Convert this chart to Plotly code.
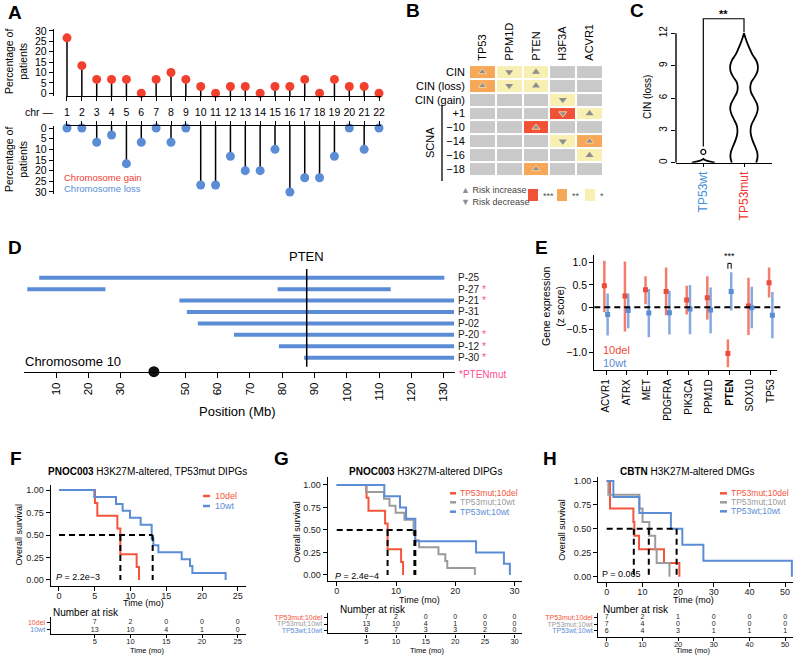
import plotly.graph_objects as go

W, H = 798, 655
FONT = "Liberation Sans, Arial, Helvetica, sans-serif"

RED = "#f2402f"
BLUE = "#5b8dd6"
KM_RED = "#f3553c"
KM_GREY = "#9b9b9b"
KM_BLUE = "#5b8dd6"
PINK = "#ff4f96"
GREY_CELL = "#c9c9c9"
YEL_CELL = "#f8f0b2"
ORA_CELL = "#f6a858"
RED_CELL = "#ef5236"

# ---------------- data ----------------
# A: chromosome arm gains / losses (% of patients)
chromosomes = list(range(1, 23))
gain_pct = [26.7, 13.3, 6.7, 6.7, 6.7, 0.0, 6.7, 10.0, 6.7, 3.3, 0.0, 3.3, 3.3, 0.0, 3.3, 3.3, 6.7, 0.0, 6.7, 3.3, 3.3, 0.0]
loss_pct = [0.0, 0.0, 6.7, 3.3, 16.7, 6.7, 0.0, 6.7, 0.0, 26.7, 26.7, 13.3, 20.0, 20.0, 10.0, 30.0, 23.3, 23.3, 13.3, 0.0, 10.0, 0.0]

# B: association heatmap (0 ns, 1 *, 2 **, 3 ***) and direction (1 increase, -1 decrease)
b_genes = ["TP53", "PPM1D", "PTEN", "H3F3A", "ACVR1"]
b_rows = ["CIN", "CIN (loss)", "CIN (gain)", "+1", "\u221210", "\u221214", "\u221216", "\u221218"]
b_signif = [[2, 1, 1, 0, 0], [2, 1, 1, 0, 0], [0, 0, 0, 1, 0], [0, 0, 0, 3, 1],
            [0, 0, 3, 0, 0], [0, 0, 0, 1, 2], [0, 0, 0, 0, 1], [0, 0, 2, 0, 0]]
b_direction = [[1, -1, 1, 0, 0], [1, -1, 1, 0, 0], [0, 0, 0, -1, 0], [0, 0, 0, -1, 1],
               [0, 0, 1, 0, 0], [0, 0, 0, -1, 1], [0, 0, 0, 0, 1], [0, 0, 1, 0, 0]]

# C: violin profiles of CIN (loss)
c_groups = ["TP53wt", "TP53mut"]
c_mut_levels = [0, 0.5, 1, 1.5, 2, 2.5, 3, 3.5, 4, 4.5, 5, 5.5, 6, 6.5, 7, 7.5, 8, 8.5, 9, 9.5, 10, 10.5, 11, 11.5, 12]
c_mut_density = [0.86, 0.95, 0.92, 0.78, 0.62, 0.5, 0.46, 0.52, 0.7, 0.88, 0.97, 0.9, 0.7, 0.5, 0.44, 0.52, 0.78,
                 0.95, 0.97, 0.85, 0.6, 0.42, 0.26, 0.12, 0.0]
c_wt_levels = [0, 0.1, 0.2, 0.3, 0.35]
c_wt_density = [0.8, 0.5, 0.22, 0.05, 0.0]
c_wt_outlier = 1.0

# D: chromosome 10 deletions (Mb)
d_patients = ["P-25", "P-27", "P-21", "P-31", "P-02", "P-20", "P-12", "P-30"]
d_pten_mut = [False, True, True, False, False, True, True, True]
d_seg_patient = ["P-25", "P-27", "P-27", "P-21", "P-31", "P-02", "P-20", "P-12", "P-30"]
d_seg_start = [4.8, 1.1, 78.6, 48.2, 50.5, 53.9, 65.1, 79.0, 86.8]
d_seg_end = [130.2, 25.3, 113.6, 133.2, 133.2, 133.2, 133.2, 133.2, 133.2]
d_pten_pos = 87.6
d_centromere = 40.3
d_ticks = [10, 20, 30, 50, 60, 70, 80, 90, 100, 110, 120, 130]

# E: gene expression (z score)
e_genes = ["ACVR1", "ATRX", "MET", "PDGFRA", "PIK3CA", "PPM1D", "PTEN", "SOX10", "TP53"]
e_del_mean = [0.48, 0.25, 0.39, 0.35, 0.16, 0.21, -1.03, 0.03, 0.55]
e_del_low = [-0.11, -0.54, 0.07, -0.18, -0.16, -0.27, -1.34, -0.62, 0.22]
e_del_high = [1.04, 1.02, 0.69, 0.89, 0.48, 0.69, -0.72, 0.66, 0.89]
e_wt_mean = [-0.16, -0.07, -0.13, -0.12, -0.04, -0.06, 0.35, -0.01, -0.18]
e_wt_low = [-0.63, -0.47, -0.67, -0.61, -0.60, -0.58, -0.07, -0.47, -0.69]
e_wt_high = [0.31, 0.31, 0.41, 0.37, 0.50, 0.44, 0.78, 0.46, 0.34]

# F/G/H: Kaplan-Meier step curves (time in months, survival)
km_mut_del_t = [0, 5.03, 5.36, 8.16, 8.58, 10.86, 11.19]
km_mut_del_s = [1, 0.857, 0.714, 0.571, 0.286, 0.143, 0]
km_mut_wt_t = [0, 4.94, 7.97, 8.9, 9.93, 11.42, 12.96, 13.2, 13.9, 17.16, 18.32, 18.65, 23.3]
km_mut_wt_s = [1, 0.923, 0.846, 0.769, 0.692, 0.615, 0.462, 0.385, 0.308, 0.231, 0.154, 0.077, 0]
km_wt_wt_t = [0, 8.03, 10.67, 11.7, 13.26, 23.5, 28.2, 29.2]
km_wt_wt_s = [1, 0.875, 0.75, 0.625, 0.375, 0.25, 0.125, 0]
f_medians = [8.58, 13.1]
g_medians = [8.58, 13.1, 13.26]

h_red_t = [0, 0.93, 7.48, 7.76, 9.07, 16.07, 20.37]
h_red_s = [1, 0.714, 0.571, 0.429, 0.286, 0.143, 0]
h_grey_t = [0, 0.47, 9.15, 10.05, 11.95, 13.6, 14.0, 17.6]
h_grey_s = [1, 0.857, 0.714, 0.571, 0.429, 0.286, 0.143, 0]
h_blue_t = [0, 1.87, 9.15, 18.0, 21.2, 27.1, 51.9]
h_blue_s = [1, 0.833, 0.667, 0.5, 0.333, 0.167, 0]
h_medians = [7.6, 11.8, 19.6]

f_risk_times = [5, 10, 15, 20, 25]
f_risk_labels = ["10del", "10wt"]
f_risk = [[7, 2, 0, 0, 0], [13, 10, 4, 1, 0]]
g_risk_times = [5, 10, 15, 20, 25, 30]
g_risk_labels = ["TP53mut;10del", "TP53mut;10wt", "TP53wt;10wt"]
g_risk = [[7, 2, 0, 0, 0, 0], [13, 10, 4, 1, 0, 0], [8, 7, 3, 3, 2, 0]]
h_risk_times = [0, 10, 20, 30, 40, 50]
h_risk_labels = ["TP53mut;10del", "TP53mut;10wt", "TP53wt;10wt"]
h_risk = [[7, 2, 1, 0, 0, 0], [7, 4, 0, 0, 0, 0], [6, 4, 3, 1, 1, 1]]


# ---------------- helpers ----------------
def fx(px):
    return px / W


def fy(py):
    return 1 - py / H


def dx(a, b):
    return [fx(a), fx(b)]


def dy(top, bottom):
    return [fy(bottom), fy(top)]


fig = go.Figure()
annotations = []
shapes = []
layout = {}


def ann(text, x, y, size=10, color="black", xanchor="center", yanchor="middle", angle=0,
        xref="paper", yref="paper", **kw):
    annotations.append(dict(text=text, x=x, y=y, xref=xref, yref=yref, showarrow=False,
                            font=dict(size=size, color=color, family=FONT),
                            xanchor=xanchor, yanchor=yanchor, textangle=angle, **kw))


def pann(text, px, py, **kw):
    ann(text, fx(px), fy(py), **kw)


def ax(**kw):
    d = dict(showgrid=False, zeroline=False, showline=False, ticks="", automargin=False,
             tickfont=dict(size=10, family=FONT, color="black"),
             linecolor="black", linewidth=1.4, tickcolor="black", tickwidth=1.2, ticklen=4)
    d.update(kw)
    return d


def span(text, color):
    return f"<span style='color:{color}'>{text}</span>"


# panel letters
for letter, px, py in [("A", 15, 12), ("B", 413, 11), ("C", 637, 11), ("D", 15, 247), ("E", 541, 247),
                       ("F", 16, 458), ("G", 281, 458), ("H", 550, 458)]:
    pann(f"<b>{letter}</b>", px, py, size=19)

# ---------------- A ----------------
base_up = -1.3
base_lo = -0.94
layout["xaxis"] = ax(domain=dx(65.5, 380.5), range=[0.9, 22.1], anchor="y", showline=True,
                     ticks="outside", tickvals=chromosomes, ticktext=[str(c) for c in chromosomes],
                     tickfont=dict(size=10.5, family=FONT, color="black"), ticklabelstandoff=2)
layout["yaxis"] = ax(domain=dy(29, 96), range=[base_up, 30.96], anchor="free", position=fx(53),
                     showline=True, ticks="outside", tickvals=[0, 5, 10, 15, 20, 25, 30],
                     tickfont=dict(size=10.5, family=FONT, color="black"))
layout["xaxis2"] = ax(domain=dx(65.5, 380.5), range=[0.9, 22.1], anchor="y2", side="top",
                      showline=True, ticks="outside", tickvals=chromosomes, showticklabels=False)
layout["yaxis2"] = ax(domain=dy(126, 194), range=[30.94, base_lo], anchor="free", position=fx(53),
                      showline=True, ticks="outside", tickvals=[0, 5, 10, 15, 20, 25, 30],
                      tickfont=dict(size=10.5, family=FONT, color="black"))

sx, sy = [], []
for c, v in zip(chromosomes, gain_pct):
    sx += [c, c, None]
    sy += [base_up, v, None]
fig.add_trace(go.Scatter(x=sx, y=sy, mode="lines", line=dict(color="black", width=1.5),
                         xaxis="x", yaxis="y", hoverinfo="skip"))
fig.add_trace(go.Scatter(x=chromosomes, y=gain_pct, mode="markers", cliponaxis=False,
                         marker=dict(color=RED, size=9), xaxis="x", yaxis="y"))
sx, sy = [], []
for c, v in zip(chromosomes, loss_pct):
    sx += [c, c, None]
    sy += [base_lo, v, None]
fig.add_trace(go.Scatter(x=sx, y=sy, mode="lines", line=dict(color="black", width=1.5),
                         xaxis="x2", yaxis="y2", hoverinfo="skip"))
fig.add_trace(go.Scatter(x=chromosomes, y=loss_pct, mode="markers", cliponaxis=False,
                         marker=dict(color=BLUE, size=9), xaxis="x2", yaxis="y2"))

pann("Percentage of<br>patients", 16, 62, size=10.5, angle=-90)
pann("Percentage of<br>patients", 16, 160, size=10.5, angle=-90)
pann("chr \u2014", 56, 112, size=10.5, xanchor="right")
pann("Chromosome gain", 62, 177, size=9.5, color=RED, xanchor="left")
pann("Chromosome loss", 62, 188, size=9.5, color=BLUE, xanchor="left")

# ---------------- B ----------------
layout["xaxis3"] = ax(domain=dx(469, 603), anchor="y3", side="top", tickangle=-90, type="category",
                      categoryorder="array", categoryarray=b_genes,
                      tickfont=dict(size=11, family=FONT, color="black"))
layout["yaxis3"] = ax(domain=dy(61.7, 179.3), anchor="x3", type="category", categoryorder="array",
                      categoryarray=b_rows, autorange="reversed", ticklabelstandoff=3,
                      tickfont=dict(size=11, family=FONT, color="black"))
cscale = [[0, GREY_CELL], [0.1667, GREY_CELL], [0.1667, YEL_CELL], [0.5, YEL_CELL],
          [0.5, ORA_CELL], [0.8333, ORA_CELL], [0.8333, RED_CELL], [1, RED_CELL]]
fig.add_trace(go.Heatmap(z=b_signif, x=b_genes, y=b_rows, colorscale=cscale, zmin=0, zmax=3,
                         showscale=False, xgap=2, ygap=2, xaxis="x3", yaxis="y3", hoverinfo="skip"))
for direction, sym in [(1, "triangle-up"), (-1, "triangle-down")]:
    tx, ty, lc = [], [], []
    for i, r in enumerate(b_rows):
        for j, g in enumerate(b_genes):
            if b_direction[i][j] == direction:
                tx.append(g)
                ty.append(r)
                lc.append("rgba(255,205,150,1)" if b_signif[i][j] >= 2 else "rgba(0,0,0,0)")
    fig.add_trace(go.Scatter(x=tx, y=ty, mode="markers", xaxis="x3", yaxis="y3", hoverinfo="skip",
                             marker=dict(symbol=sym, size=7, color="#8e8e8e", line=dict(color=lc, width=1))))
pann("SCNA", 430, 143, size=11, angle=-90)
shapes.append(dict(type="line", xref="paper", yref="paper", x0=fx(442), x1=fx(442), y0=fy(105), y1=fy(181),
                   line=dict(color="black", width=1.3)))
pann(span("\u25b2", "#8e8e8e") + " Risk increase", 459, 190, size=9, color="#444", xanchor="left")
pann(span("\u25bc", "#8e8e8e") + " Risk decrease", 459, 202, size=9, color="#444", xanchor="left")
for x0, col, lab in [(528, RED_CELL, "***"), (557, ORA_CELL, "**"), (585, YEL_CELL, "*")]:
    shapes.append(dict(type="rect", xref="paper", yref="paper", x0=fx(x0), x1=fx(x0 + 10), y0=fy(201), y1=fy(189),
                       fillcolor=col, line=dict(width=0)))
    pann(lab, x0 + 13, 196, size=9, color="#555", xanchor="left")

# ---------------- C ----------------
layout["xaxis4"] = ax(domain=dx(676, 772), range=[-0.671, 1.688], anchor="y4", showline=True,
                      ticks="outside", ticklen=3, tickvals=[0, 1],
                      ticktext=[span(c_groups[0], "#3f8fd8"), span(c_groups[1], "#f0362c")],
                      tickangle=-90, tickfont=dict(size=12, family=FONT, color="black"))
layout["yaxis4"] = ax(domain=dy(14, 162.7), range=[0, 13.79], anchor="x4", ticks="outside",
                      tickvals=[0, 3, 6, 9, 12], tickangle=-90,
                      tickfont=dict(size=10, family=FONT, color="black"))
shapes.append(dict(type="line", xref="paper", yref="y4", x0=fx(676), x1=fx(676), y0=0, y1=12,
                   line=dict(color="black", width=1.4)))
vscale = 0.35
for gi, lv, dens in [(1, c_mut_levels, c_mut_density), (0, c_wt_levels, c_wt_density)]:
    vx = [gi + d * vscale for d in dens] + [gi - d * vscale for d in reversed(dens)]
    vy = list(lv) + list(reversed(lv))
    fig.add_trace(go.Scatter(x=vx, y=vy, mode="lines", fill="toself", fillcolor="white",
                             line=dict(color="black", width=1.8, shape="spline", smoothing=0.6),
                             xaxis="x4", yaxis="y4", hoverinfo="skip"))
fig.add_trace(go.Scatter(x=[0], y=[c_wt_outlier], mode="markers", xaxis="x4", yaxis="y4",
                         marker=dict(symbol="circle-open", size=5, color="black", line=dict(width=1.2))))
bracket_top = 13.35
fig.add_trace(go.Scatter(x=[0, 0, 1, 1], y=[1.5, bracket_top, bracket_top, 12.1], mode="lines",
                         line=dict(color="black", width=1.2), xaxis="x4", yaxis="y4", hoverinfo="skip"))
ann("<b>**</b>", 0.5, bracket_top, xref="x4", yref="y4", size=11, yanchor="bottom", yshift=-3)
pann("CIN (loss)", 647, 97, size=10, angle=-90)

# ---------------- D ----------------
layout["xaxis5"] = ax(domain=dx(23.7, 455), range=[0, 133.5], anchor="y5", showline=True,
                      ticks="outside", ticklen=5, tickvals=d_ticks, tickangle=-90,
                      tickfont=dict(size=11.5, family=FONT, color="black"))
d_labels = [p + (" " + span("*", PINK) if m else "") for p, m in zip(d_patients, d_pten_mut)]
layout["yaxis5"] = ax(domain=dy(262, 371.7), range=[8.225, -1.374], anchor="free", position=fx(455),
                      side="right", tickvals=list(range(len(d_patients))), ticktext=d_labels,
                      ticklabelstandoff=2, tickfont=dict(size=10, family=FONT, color="#222"))
sx, sy = [], []
for p, s, e in zip(d_seg_patient, d_seg_start, d_seg_end):
    r = d_patients.index(p)
    sx += [s, e, None]
    sy += [r, r, None]
fig.add_trace(go.Scatter(x=sx, y=sy, mode="lines", line=dict(color=BLUE, width=4),
                         xaxis="x5", yaxis="y5", hoverinfo="skip"))
fig.add_trace(go.Scatter(x=[d_pten_pos, d_pten_pos], y=[-0.76, 7.79], mode="lines",
                         line=dict(color="black", width=1.5), xaxis="x5", yaxis="y5", hoverinfo="skip"))
fig.add_trace(go.Scatter(x=[d_centromere], y=[8.225], mode="markers", cliponaxis=False,
                         marker=dict(color="#111", size=11), xaxis="x5", yaxis="y5"))
ann("PTEN", d_pten_pos, fy(256.7), xref="x5", size=13)
pann("Chromosome 10", 23, 361, size=13, xanchor="left")
pann("Position (Mb)", 237, 411, size=13)
pann("*PTENmut", 457, 374, size=10, color=PINK, xanchor="left")

# ---------------- E ----------------
e_ticktext = [f"<b>{g}</b>" if g == "PTEN" else g for g in e_genes]
layout["xaxis6"] = ax(domain=dx(594.3, 776.7), range=[-0.568, 8.29], anchor="y6", showline=True,
                      ticks="outside", tickvals=list(range(len(e_genes))), ticktext=e_ticktext,
                      tickangle=-90, tickfont=dict(size=10, family=FONT, color="black"))
layout["yaxis6"] = ax(domain=dy(255, 370), range=[-1.4, 1.167], anchor="x6", showline=True,
                      ticks="outside", tickvals=[1, 0.5, 0, -0.5, -1],
                      ticktext=["1.0", "0.5", "0", "\u22120.5", "\u22121.0"],
                      tickfont=dict(size=10.5, family=FONT, color="black"))
shapes.append(dict(type="line", xref="paper", yref="y6", x0=fx(594.3), x1=fx(783), y0=0, y1=0,
                   line=dict(color="black", width=2, dash="6px,4px")))
off = 0.08
for mean, lo, hi, sgn, col, ecol in [(e_del_mean, e_del_low, e_del_high, -1, "#ef4a3a", "rgba(240,80,60,0.75)"),
                                     (e_wt_mean, e_wt_low, e_wt_high, 1, BLUE, "rgba(91,141,214,0.75)")]:
    fig.add_trace(go.Scatter(
        x=[i + sgn * off for i in range(len(e_genes))], y=mean, mode="markers",
        marker=dict(symbol="square", size=5, color=col),
        error_y=dict(type="data", symmetric=False, array=[h - m for h, m in zip(hi, mean)],
                     arrayminus=[m - l for m, l in zip(mean, lo)], color=ecol, thickness=2.5, width=0),
        xaxis="x6", yaxis="y6", hoverinfo="skip"))
pten_i = e_genes.index("PTEN")
fig.add_trace(go.Scatter(x=[pten_i - off, pten_i - off, pten_i + off, pten_i + off], y=[0.86, 0.98, 0.98, 0.86],
                         mode="lines", line=dict(color="black", width=1), xaxis="x6", yaxis="y6", hoverinfo="skip"))
ann("***", pten_i, 0.98, xref="x6", yref="y6", size=9, yanchor="bottom", yshift=0)
pann("Gene expression<br>(z score)", 553, 306, size=10.5, angle=-90)
pann("10del", 601, 349.5, size=11, color="#ef4a3a", xanchor="left")
pann("10wt", 601, 363, size=11, color=BLUE, xanchor="left")


# ---------------- KM panels ----------------
def km_panel(xa, ya, xr, yr, xdom, ydom, xrange_, yrange_, xticks, curves, medians,
             risk_dom, risk_range, risk_times, risk_rows, risk_labels, risk_colors, risk_ticks):
    layout[f"xaxis{xa}"] = ax(domain=xdom, range=xrange_, anchor=f"y{ya}", showline=True, ticks="outside",
                              tickvals=xticks, ticklabelstandoff=-3,
                              tickfont=dict(size=9, family=FONT, color="#222"))
    layout[f"yaxis{ya}"] = ax(domain=ydom, range=yrange_, anchor=f"x{xa}", showline=True, ticks="outside",
                              tickvals=[0, 0.25, 0.5, 0.75, 1], tickformat=".2f",
                              tickfont=dict(size=9, family=FONT, color="#222"))
    for t, s, c in curves:
        fig.add_trace(go.Scatter(x=t, y=s, mode="lines", line=dict(color=c, width=2, shape="hv"),
                                 xaxis=f"x{xa}", yaxis=f"y{ya}", hoverinfo="skip"))
    mx, my = [0, max(medians), None], [0.5, 0.5, None]
    for m in medians:
        mx += [m, m, None]
        my += [0.5, 0, None]
    fig.add_trace(go.Scatter(x=mx, y=my, mode="lines", line=dict(color="black", width=2, dash="6px,4px"),
                             xaxis=f"x{xa}", yaxis=f"y{ya}", hoverinfo="skip"))
    # risk table
    layout[f"xaxis{xr}"] = ax(domain=xdom, range=xrange_, anchor=f"y{yr}", showline=True, ticks="outside",
                              ticklen=3, tickvals=risk_ticks, ticklabelstandoff=-3,
                              tickfont=dict(size=7.5, family=FONT, color="#222"))
    layout[f"yaxis{yr}"] = ax(domain=risk_dom, range=risk_range, anchor=f"x{xr}", showline=True,
                              ticks="outside", ticklen=3, tickvals=list(range(len(risk_labels))),
                              ticktext=[span(l, c) for l, c in zip(risk_labels, risk_colors)],
                              tickfont=dict(size=7, family=FONT, color="black"))
    for i, row in enumerate(risk_rows):
        fig.add_trace(go.Scatter(x=risk_times, y=[i] * len(row), text=[str(n) for n in row], mode="text",
                                 textfont=dict(size=7, family=FONT, color="#222"), cliponaxis=False,
                                 xaxis=f"x{xr}", yaxis=f"y{yr}", hoverinfo="skip"))


# F
km_panel(7, 7, 8, 8, dx(50.7, 245.7), dy(485, 586), [-1.16, 26.11], [-0.067, 1.056], [0, 5, 10, 15, 20, 25],
         [(km_mut_del_t, km_mut_del_s, KM_RED), (km_mut_wt_t, km_mut_wt_s, KM_BLUE)], f_medians,
         dy(617, 634), [1.55, -0.78], f_risk_times, f_risk, f_risk_labels, [KM_RED, KM_BLUE], f_risk_times)
pann("<b>PNOC003</b> H3K27M-altered, TP53mut DIPGs", 147.5, 471.7, size=10)
pann("Overall survival", 18.5, 535, size=9, angle=-90)
pann("Time (mo)", 143, 603, size=9)
pann("<i>P</i> = 2.2e\u22123", 54, 576.7, size=9, xanchor="left")
pann("Number at risk", 50.7, 612.7, size=10, xanchor="left")
pann("Time (mo)", 146.7, 650.5, size=7.5)
for py, col, lab in [(496, KM_RED, "10del"), (506, KM_BLUE, "10wt")]:
    shapes.append(dict(type="line", xref="paper", yref="paper", x0=fx(203), x1=fx(210), y0=fy(py), y1=fy(py),
                       line=dict(color=col, width=2.5)))
    pann(lab, 213, py, size=9, color=col, xanchor="left")

# G
km_panel(9, 9, 10, 10, dx(327.7, 521.7), dy(476.7, 581), [-1.52, 31.2], [-0.067, 1.092], [0, 10, 20, 30],
         [(km_mut_del_t, km_mut_del_s, KM_RED), (km_mut_wt_t, km_mut_wt_s, KM_GREY),
          (km_wt_wt_t, km_wt_wt_s, KM_BLUE)], g_medians,
         dy(613, 633.3), [2.48, -0.75], g_risk_times, g_risk, g_risk_labels, [KM_RED, KM_GREY, KM_BLUE],
         g_risk_times)
pann("<b>PNOC003</b> H3K27M-altered DIPGs", 425.8, 471.7, size=10)
pann("Overall survival", 296.7, 532, size=9, angle=-90)
pann("Time (mo)", 419, 599.5, size=9)
pann("<i>P</i> = 2.4e\u22124", 333.3, 575.7, size=9, xanchor="left")
pann("Number at risk", 337.7, 609, size=10, xanchor="left")
pann("Time (mo)", 426.5, 650.5, size=7.5)
for py, col, lab in [(493.3, KM_RED, "TP53mut;10del"), (502.3, KM_GREY, "TP53mut;10wt"), (511.7, KM_BLUE, "TP53wt;10wt")]:
    shapes.append(dict(type="line", xref="paper", yref="paper", x0=fx(450), x1=fx(456), y0=fy(py), y1=fy(py),
                       line=dict(color=col, width=2.5)))
    pann(lab, 457.5, py, size=8.5, color=col, xanchor="left")

# H
km_panel(11, 11, 12, 12, dx(598.3, 793.3), dy(476.7, 581.7), [-2.35, 52.3], [-0.052, 1.045],
         [0, 10, 20, 30, 40, 50],
         [(h_red_t, h_red_s, KM_RED), (h_grey_t, h_grey_s, KM_GREY), (h_blue_t, h_blue_s, KM_BLUE)], h_medians,
         dy(613, 636.7), [2.86, -0.71], h_risk_times, h_risk, h_risk_labels, [KM_RED, KM_GREY, KM_BLUE],
         h_risk_times)
pann("<b>CBTN</b> H3K27M-altered DMGs", 687.2, 471.7, size=10)
pann("Overall survival", 561.7, 530, size=9, angle=-90)
pann("Time (mo)", 693.3, 599.5, size=9)
pann("P = 0.065", 600, 574.3, size=9, xanchor="left")
pann("Number at risk", 601, 609, size=10, xanchor="left")
pann("Time (mo)", 693.3, 650.5, size=7.5)
for py, col, lab in [(493.3, KM_RED, "TP53mut;10del"), (502.3, KM_GREY, "TP53mut;10wt"), (511.3, KM_BLUE, "TP53wt;10wt")]:
    shapes.append(dict(type="line", xref="paper", yref="paper", x0=fx(720), x1=fx(727), y0=fy(py), y1=fy(py),
                       line=dict(color=col, width=2.5)))
    pann(lab, 728.5, py, size=8.5, color=col, xanchor="left")

fig.update_layout(
    width=W, height=H, autosize=False, margin=dict(l=0, r=0, t=0, b=0, autoexpand=False),
    paper_bgcolor="white", plot_bgcolor="white", showlegend=False,
    font=dict(family=FONT, size=10, color="black"),
    annotations=annotations, shapes=shapes, **layout)

fig.write_html("out.html", config={"displayModeBar": False},
               post_script="document.body.style.margin='0';document.body.style.overflow='hidden';")
